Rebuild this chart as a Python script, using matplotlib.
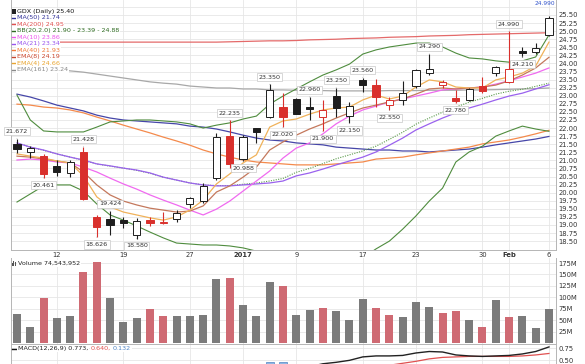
import matplotlib
matplotlib.use('Agg')
import matplotlib.pyplot as plt
from matplotlib.patches import Rectangle
from matplotlib.lines import Line2D

# GDX daily, 7 Dec 2016 .. 6 Feb 2017 (41 sessions)
prev_close = 21.30
opens = [21.50, 21.27, 21.14, 20.83, 20.62, 21.27, 19.26, 19.18, 19.15, 18.69,
         19.15, 19.05, 19.18, 19.64, 19.75, 20.44, 21.75, 21.03, 21.99, 22.33,
         22.64, 22.89, 22.64, 22.35, 23.00, 22.37, 23.49, 23.33, 22.71, 22.87,
         23.30, 23.71, 23.33, 22.92, 22.87, 23.30, 23.71, 23.44, 24.39, 24.35, 24.88]
highs = [21.672, 21.45, 21.20, 21.00, 21.00, 21.428, 19.31, 19.424, 19.26, 19.21,
         19.26, 19.41, 19.46, 19.88, 20.29, 21.84, 22.235, 21.78, 22.00, 23.35,
         23.08, 22.92, 22.96, 22.87, 23.25, 22.82, 23.56, 23.52, 22.97, 23.46,
         23.83, 24.29, 23.50, 23.18, 23.25, 23.58, 23.92, 24.99, 24.52, 24.64, 25.48]
lows = [21.22, 21.08, 20.461, 20.52, 20.50, 19.78, 18.626, 18.69, 18.90, 18.58,
        18.97, 19.04, 19.10, 19.52, 19.67, 20.39, 20.75, 20.988, 21.53, 22.30,
        22.02, 22.42, 22.25, 21.90, 22.35, 22.15, 23.13, 22.66, 22.55, 22.71,
        23.25, 23.64, 23.25, 22.78, 22.85, 23.10, 23.61, 23.40, 24.21, 24.29, 24.85]
closes = [21.35, 21.37, 20.58, 20.65, 20.96, 19.80, 18.93, 18.99, 19.05, 19.12,
          19.07, 19.06, 19.38, 19.84, 20.21, 21.73, 20.89, 21.71, 21.89, 23.18,
          22.35, 22.44, 22.60, 22.56, 22.61, 22.68, 23.33, 22.97, 22.87, 23.08,
          23.80, 23.82, 23.44, 22.84, 23.20, 23.16, 23.90, 23.82, 24.33, 24.47, 25.40]
volume_m = [62.9, 34.4, 99.4, 54.1, 58.5, 155.0, 177.0, 99.4, 46.8, 55.6,
            74.6, 59.2, 58.5, 59.2, 60.7, 139.6, 141.8, 83.3, 58.5, 134.5,
            124.3, 61.8, 71.3, 76.5, 69.1, 50.7, 95.6, 76.5, 60.3, 57.4,
            89.7, 79.4, 66.2, 69.9, 50.7, 36.0, 94.9, 57.4, 58.1, 33.8, 74.5]

ma50 = [23.05, 22.96, 22.84, 22.71, 22.62, 22.53, 22.40, 22.31, 22.25, 22.22,
        22.19, 22.16, 22.13, 22.06, 22.03, 21.97, 21.88, 21.78, 21.69, 21.63,
        21.60, 21.54, 21.51, 21.48, 21.41, 21.38, 21.35, 21.32, 21.32, 21.29,
        21.29, 21.26, 21.29, 21.32, 21.35, 21.41, 21.48, 21.54, 21.60, 21.66, 21.74]
ma200 = [24.66, 24.66, 24.66, 24.66, 24.66, 24.66, 24.66, 24.66, 24.66, 24.66,
         24.66, 24.66, 24.66, 24.66, 24.66, 24.66, 24.67, 24.68, 24.69, 24.70,
         24.70, 24.71, 24.73, 24.74, 24.75, 24.77, 24.78, 24.79, 24.81, 24.82,
         24.83, 24.85, 24.86, 24.87, 24.89, 24.90, 24.91, 24.92, 24.93, 24.94, 24.95]
bb_upper = [23.02, 22.25, 21.91, 21.88, 21.88, 21.88, 22.03, 22.19, 22.22, 22.25,
            22.25, 22.22, 22.19, 22.13, 22.00, 22.09, 22.16, 22.28, 22.37, 22.74,
            22.99, 23.21, 23.43, 23.64, 23.80, 23.98, 24.29, 24.42, 24.51, 24.57,
            24.63, 24.63, 24.51, 24.32, 24.17, 24.14, 24.08, 24.04, 24.08, 24.20, 24.88]
bb_mid = [21.54, 21.41, 21.31, 21.20, 21.10, 21.00, 20.89, 20.82, 20.76, 20.69,
          20.60, 20.48, 20.39, 20.30, 20.24, 20.22, 20.22, 20.26, 20.30, 20.36,
          20.44, 20.63, 20.75, 20.90, 21.05, 21.17, 21.29, 21.44, 21.65, 21.87,
          22.12, 22.31, 22.49, 22.65, 22.80, 22.92, 23.05, 23.14, 23.20, 23.29, 23.39]
bb_lower = [19.71, 19.96, 20.21, 20.24, 20.24, 20.05, 19.65, 19.31, 19.15, 18.97,
            18.78, 18.60, 18.44, 18.41, 18.38, 18.38, 18.35, 18.29, 18.19, 18.10,
            18.01, 17.95, 17.88, 17.85, 17.85, 17.88, 17.98, 18.26, 18.50, 18.87,
            19.28, 19.74, 20.14, 20.95, 21.26, 21.44, 21.75, 21.91, 22.06, 21.97, 21.90]
ma10 = [21.01, 21.04, 21.01, 20.95, 20.92, 20.79, 20.64, 20.45, 20.27, 20.11,
        19.93, 19.77, 19.62, 19.46, 19.31, 19.49, 19.74, 20.05, 20.36, 20.67,
        21.07, 21.38, 21.54, 21.82, 22.13, 22.37, 22.56, 22.68, 22.81, 22.90,
        22.99, 23.08, 23.18, 23.21, 23.24, 23.27, 23.36, 23.46, 23.58, 23.70, 23.86]
ma21 = [21.54, 21.41, 21.32, 21.20, 21.10, 21.01, 20.89, 20.83, 20.76, 20.70,
        20.61, 20.48, 20.39, 20.30, 20.24, 20.21, 20.21, 20.24, 20.27, 20.30,
        20.36, 20.52, 20.61, 20.73, 20.86, 20.98, 21.10, 21.26, 21.47, 21.69,
        21.94, 22.13, 22.31, 22.47, 22.62, 22.74, 22.87, 22.99, 23.08, 23.21, 23.34]
ma40 = [22.74, 22.71, 22.65, 22.62, 22.56, 22.47, 22.34, 22.22, 22.09, 21.97,
        21.85, 21.72, 21.60, 21.47, 21.32, 21.20, 21.10, 21.01, 20.95, 20.92,
        20.89, 20.86, 20.86, 20.86, 20.89, 20.92, 20.95, 21.04, 21.07, 21.10,
        21.17, 21.23, 21.29, 21.35, 21.41, 21.51, 21.57, 21.63, 21.72, 21.82, 21.93]
ema8 = [21.13, 21.10, 21.04, 20.98, 20.92, 20.64, 20.24, 19.93, 19.74, 19.62,
        19.52, 19.46, 19.40, 19.43, 19.59, 20.02, 20.21, 20.48, 20.79, 21.32,
        21.57, 21.78, 21.97, 22.13, 22.31, 22.47, 22.62, 22.71, 22.81, 22.90,
        23.05, 23.21, 23.24, 23.21, 23.24, 23.27, 23.33, 23.46, 23.64, 23.86, 24.19]
ema4 = [21.20, 21.13, 21.07, 20.98, 20.92, 20.52, 19.87, 19.56, 19.40, 19.31,
        19.22, 19.15, 19.25, 19.46, 19.77, 20.27, 20.58, 20.92, 21.17, 22.03,
        22.22, 22.28, 22.43, 22.56, 22.62, 22.65, 22.87, 23.02, 22.90, 22.99,
        23.27, 23.49, 23.43, 23.27, 23.24, 23.24, 23.49, 23.58, 23.70, 23.92, 24.66]
ema161 = [23.92, 23.89, 23.86, 23.83, 23.77, 23.73, 23.67, 23.61, 23.55, 23.49,
          23.43, 23.39, 23.36, 23.30, 23.27, 23.24, 23.24, 23.21, 23.21, 23.18,
          23.18, 23.17, 23.16, 23.16, 23.15, 23.15, 23.15, 23.15, 23.16, 23.16,
          23.16, 23.17, 23.17, 23.17, 23.18, 23.18, 23.19, 23.20, 23.21, 23.22, 23.24]

macd = [-0.05, -0.08, -0.14, -0.18, -0.20, -0.30, -0.42, -0.50, -0.55, -0.58,
        -0.60, -0.61, -0.60, -0.56, -0.50, -0.36, -0.30, -0.18, -0.06, 0.13,
        0.22, 0.30, 0.37, 0.43, 0.46, 0.50, 0.57, 0.59, 0.59, 0.60,
        0.65, 0.68, 0.67, 0.61, 0.59, 0.58, 0.59, 0.60, 0.63, 0.68, 0.773]
signal = [0.05, 0.03, 0.00, -0.04, -0.07, -0.12, -0.18, -0.25, -0.31, -0.36,
          -0.41, -0.45, -0.48, -0.50, -0.50, -0.47, -0.44, -0.39, -0.32, -0.23,
          -0.14, -0.05, 0.04, 0.12, 0.20, 0.27, 0.32, 0.36, 0.40, 0.44,
          0.48, 0.53, 0.56, 0.57, 0.58, 0.58, 0.58, 0.58, 0.59, 0.61, 0.640]
macd_hist = [-0.10, -0.11, -0.14, -0.14, -0.13, -0.18, -0.24, -0.25, -0.24, -0.22,
             -0.19, -0.16, -0.12, -0.06, 0.02, 0.12, 0.15, 0.22, 0.28, 0.47,
             0.46, 0.38, 0.33, 0.31, 0.26, 0.23, 0.25, 0.23, 0.19, 0.16,
             0.17, 0.15, 0.11, 0.04, 0.01, 0.00, 0.01, 0.02, 0.04, 0.07, 0.132]

# marked highs / lows
high_marks = [0, 5, 7, 16, 19, 22, 24, 26, 31, 37]
low_marks = [2, 6, 9, 17, 20, 23, 25, 28, 33, 38]

date_ticks = [3, 8, 13, 17, 21, 26, 30, 35, 37, 40]
date_labels = ['12', '19', '27', '2017', '9', '17', '23', '30', 'Feb', '6']

W, H = 585, 364
RED = '#d9302c'
BLACK = '#1e1e1e'
GRID = '#e6e6e6'
TXT = '#333333'
FS = 4.6

fig = plt.figure(figsize=(W / 100, H / 100), dpi=100)
fig.patch.set_facecolor('white')


def box(x0, y0, x1, y1):
    return [x0 / W, 1 - y1 / H, (x1 - x0) / W, (y1 - y0) / H]


ax = fig.add_axes(box(11, 0, 556, 250))
axv = fig.add_axes(box(11, 258, 556, 344))
axm = fig.add_axes(box(11, 345, 556, 372))

n = len(closes)
idx = list(range(n))
prevs = [prev_close] + closes[:-1]
is_down = [c < p for c, p in zip(closes, prevs)]

for a in (ax, axv, axm):
    a.set_xlim(-0.45, 40.53)
    a.set_facecolor('white')
    a.yaxis.tick_right()
    a.tick_params(axis='y', length=0, pad=2, labelsize=FS + 0.3, labelcolor=TXT)
    a.tick_params(axis='x', length=0)
    for s in a.spines.values():
        s.set_color('#b5b5b5')
        s.set_linewidth(0.7)
    a.spines['top'].set_visible(False)
    for t in date_ticks:
        a.axvline(t, color=GRID, lw=0.6, zorder=0)

# ---- price panel
ax.set_ylim(18.225, 25.964)
yt = [18.5 + 0.25 * k for k in range(29)]
ax.set_yticks(yt)
ax.set_yticklabels([f'{v:.2f}' for v in yt])
for v in yt + [25.75]:
    ax.axhline(v, color=GRID, lw=0.6, zorder=0)

ax.plot(idx, ema161, color='#a8a8a8', lw=0.9, zorder=2)
ax.plot(idx, ma200, color='#e46a6a', lw=0.9, zorder=2)
ax.plot(idx, ma50, color='#4646a8', lw=0.9, zorder=2)
ax.plot(idx, ma40, color='#f48a4c', lw=0.9, zorder=2)
ax.plot(idx, bb_upper, color='#4f8c3e', lw=0.8, zorder=2)
ax.plot(idx, bb_lower, color='#4f8c3e', lw=0.8, zorder=2)
ax.plot(idx, bb_mid, color='#5a9a4a', lw=0.8, ls=(0, (1, 1.2)), zorder=2)
ax.plot(idx, ma21, color='#9a62ee', lw=0.9, zorder=2)
ax.plot(idx, ma10, color='#f06af0', lw=0.9, zorder=2)
ax.plot(idx, ema8, color='#c4785c', lw=0.9, zorder=2)
ax.plot(idx, ema4, color='#f0b25a', lw=0.9, zorder=2)

for i in idx:
    o, h, l, c = opens[i], highs[i], lows[i], closes[i]
    col = RED if is_down[i] else BLACK
    filled = c < o
    ax.vlines(i, l, h, color=col, lw=0.8, zorder=4)
    bot = min(o, c)
    ht = max(abs(c - o), 0.03)
    ax.add_patch(Rectangle((i - 0.27, bot), 0.54, ht,
                           facecolor=col if filled else 'white',
                           edgecolor=col, lw=0.7, zorder=5))

lbl_box = dict(boxstyle='square,pad=0.25', facecolor='white', edgecolor='#c8c8c8', lw=0.5)
for i in high_marks:
    ax.annotate(f'{highs[i]:.3f}', (i, highs[i]), xytext=(0, 3.5), textcoords='offset points',
                ha='center', va='bottom', fontsize=FS, color=TXT, bbox=lbl_box, zorder=6,
                arrowprops=dict(arrowstyle='-', color='#aaaaaa', lw=0.5))
for i in low_marks:
    ax.annotate(f'{lows[i]:.3f}', (i, lows[i]), xytext=(0, -3.5), textcoords='offset points',
                ha='center', va='top', fontsize=FS, color=TXT, bbox=lbl_box, zorder=6,
                arrowprops=dict(arrowstyle='-', color='#aaaaaa', lw=0.5))

ax.set_xticks(date_ticks)
ax.set_xticklabels(date_labels, fontsize=FS + 0.3, color=TXT)
ax.tick_params(axis='x', pad=1.5)
for t in ax.get_xticklabels():
    if t.get_text() in ('2017', 'Feb'):
        t.set_fontweight('bold')

# ---- volume panel
axv.set_ylim(-2.2, 186)
vt = [25, 50, 75, 100, 125, 150, 175]
axv.set_yticks(vt)
axv.set_yticklabels([f'{v}M' for v in vt])
for v in vt:
    axv.axhline(v, color=GRID, lw=0.6, zorder=0)
axv.bar(idx, volume_m, width=0.6, zorder=3,
        color=['#cf6a73' if d else '#7b7b7b' for d in is_down])
axv.set_xticks([])

# ---- MACD panel
axm.set_ylim(0.2625, 0.8125)
axm.set_yticks([0.5, 0.75])
axm.set_yticklabels(['0.50', '0.75'])
for v in (0.5, 0.75):
    axm.axhline(v, color=GRID, lw=0.6, zorder=0)
axm.bar(idx, macd_hist, width=0.6, color='#8fb6e2', edgecolor='#4f84c4', lw=0.5, zorder=2)
axm.plot(idx, signal, color='#e05050', lw=0.9, zorder=3)
axm.plot(idx, macd, color='#222222', lw=1.0, zorder=4)
axm.set_xticks([])

# ---- legends (pixel positions)
def ftext(x, y, s, color, **kw):
    return fig.text(x / W, 1 - y / H, s, color=color, fontsize=FS, va='center', ha='left',
                    bbox=dict(facecolor='white', edgecolor='none', pad=0.4), **kw)


def fdash(x, y, color):
    fig.add_artist(Line2D([x / W, (x + 4.5) / W], [1 - y / H, 1 - y / H], color=color, lw=1.0))


fig.add_artist(Rectangle((12 / W, 1 - 14 / H), 3.5 / W, 5 / H, facecolor='#222222',
                         edgecolor='none', transform=fig.transFigure))
ftext(17, 11.7, 'GDX (Daily) 25.40', '#111111')
legend = [('MA(50) 21.74', '#333399'),
          ('MA(200) 24.95', '#e05050'),
          ('BB(20,2.0) 21.90 - 23.39 - 24.88', '#2f6b22'),
          ('MA(10) 23.86', '#ee55ee'),
          ('MA(21) 23.34', '#9955ee'),
          ('MA(40) 21.93', '#f07a38'),
          ('EMA(8) 24.19', '#c8452c'),
          ('EMA(4) 24.66', '#e9a530'),
          ('EMA(161) 23.24', '#8a8a8a')]
for k, (s, c) in enumerate(legend):
    y = 17.9 + 6.45 * k
    fdash(12, y, c)
    ftext(17, y, s, c)

fig.text(545 / W, 1 - 3.2 / H, '24.990', color='#3355cc', fontsize=FS - 0.4,
         ha='center', va='center')

# volume label
for k, hgt in enumerate([3, 5, 4]):
    fig.add_artist(Rectangle(((12 + 1.4 * k) / W, 1 - 265.5 / H), 1.0 / W, hgt / H,
                             facecolor='#555555', edgecolor='none', transform=fig.transFigure))
ftext(18, 263.5, 'Volume 74,543,952', '#222222')

# MACD label
fdash(12, 348.5, '#111111')
ftext(18, 348.5, 'MACD(12,26,9) 0.773,', '#222222')
ftext(91, 348.5, '0.640,', '#e05050')
ftext(113, 348.5, '0.132', '#4f84c4')

fig.savefig('out.png', dpi=100, facecolor='white')
